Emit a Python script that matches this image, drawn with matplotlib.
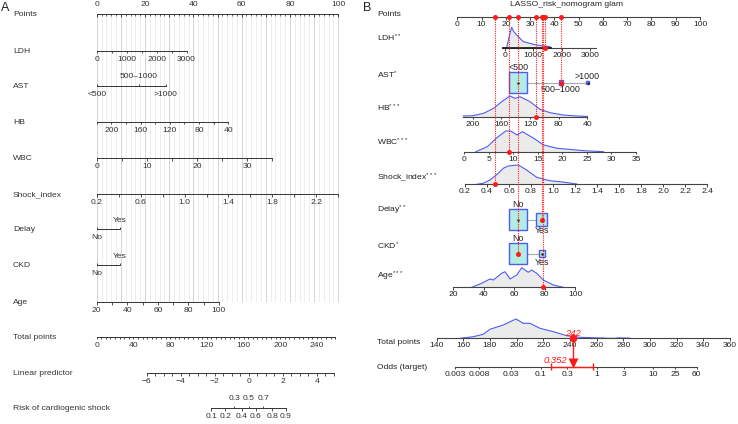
import numpy as np
import matplotlib.pyplot as plt
from matplotlib.patches import Rectangle

plt.rcParams['font.family'] = ['Liberation Sans', 'DejaVu Sans']
plt.rcParams['mathtext.fontset'] = 'custom'
plt.rcParams['mathtext.rm'] = 'Liberation Sans'
plt.rcParams['mathtext.it'] = 'Liberation Sans:italic'

# ---------------- panel A (rms nomogram) ----------------
# scales: (value0, points0, value1, points1)
a_ldh_scale = (0, 0.0, 3000, 37.2)
a_ldh_ticks = [0, 500, 1000, 1500, 2000, 2500, 3000]
a_ldh_labels = [0, 1000, 2000, 3000]
a_ast_cats = ['<500', '500\u20131000', '>1000']
a_ast_pts = [0.0, 17.5, 28.7]
a_hb_scale = (220, 0.0, 40, 54.5)
a_hb_ticks = [220, 200, 180, 160, 140, 120, 100, 80, 60, 40]
a_hb_labels = [200, 160, 120, 80, 40]
a_wbc_scale = (0, 0.0, 35, 72.7)
a_wbc_ticks = [0, 5, 10, 15, 20, 25, 30, 35]
a_wbc_labels = [0, 10, 20, 30]
a_si_scale = (0.2, 0.0, 2.4, 100.0)
a_si_ticks = [0.2, 0.4, 0.6, 0.8, 1.0, 1.2, 1.4, 1.6, 1.8, 2.0, 2.2, 2.4]
a_si_labels = [0.2, 0.6, 1.0, 1.4, 1.8, 2.2]
a_delay_pts = [0.0, 9.6]
a_ckd_pts = [0.0, 9.6]
a_age_scale = (20, 0.0, 100, 50.6)
a_age_ticks = [20, 30, 40, 50, 60, 70, 80, 90, 100]
a_age_labels = [20, 40, 60, 80, 100]
a_tp_ticks = list(range(0, 261, 5))
a_tp_labels = [0, 40, 80, 120, 160, 200, 240]
a_lp_ticks = list(np.arange(-6, 5.01, 0.5))
a_lp_labels = [-6, -4, -2, 0, 2, 4]
a_risk_below = [0.1, 0.2, 0.4, 0.6, 0.8, 0.9]
a_risk_above = [0.3, 0.5, 0.7]

# ---------------- panel B (regplot nomogram) ----------------
b_ldh_scale = (0, 19.65, 3000, 54.7)
b_ldh_ticks = [0, 1000, 2000, 3000]
b_ldh_dens_v = [-80, 60, 150, 236, 300, 412, 644, 997, 1300, 1585, 1640]
b_ldh_dens_h = [0, 0.5, 12, 21, 17, 13.3, 6.7, 4, 2.5, 1.7, 0]
b_ast_cats = ['<500', '500\u20131000', '>1000']
b_ast_pts = [25.1, 42.7, 53.7]
b_ast_prop = [0.93, 0.05, 0.02]
b_hb_scale = (200, 6.35, 40, 53.6)
b_hb_ticks = [200, 160, 120, 80, 40]
b_hb_dens_v = [213, 200, 185, 171, 159.5, 148, 141, 134, 120, 106, 92, 74, 55, 40]
b_hb_dens_h = [0.7, 1, 3.3, 8.3, 15, 20.7, 18.3, 20, 15, 7.3, 4, 1.7, 0.7, 0.3]
b_wbc_scale = (0, 2.76, 35, 73.6)
b_wbc_ticks = [0, 5, 10, 15, 20, 25, 30, 35]
b_wbc_dens_v = [2.4, 4.75, 6.8, 8.5, 9.5, 10.8, 11.9, 14.2, 16.2, 19, 24.4, 28.4]
b_wbc_dens_h = [0, 5, 14.4, 20.7, 20.7, 16.7, 20, 13.4, 6.7, 3.4, 1, 0]
b_si_scale = (0.2, 3.17, 2.4, 102.9)
b_si_ticks = [0.2, 0.4, 0.6, 0.8, 1.0, 1.2, 1.4, 1.6, 1.8, 2.0, 2.2, 2.4]
b_si_dens_v = [0.306, 0.366, 0.427, 0.503, 0.548, 0.594, 0.685, 0.76, 0.852, 0.943, 0.99, 1.064, 1.215]
b_si_dens_h = [0, 1, 4.3, 11, 16, 18.3, 19.3, 14.3, 7, 4.3, 3.3, 2.6, 0.3]
b_delay_cats = ['No', 'Yes']
b_delay_pts = [25.1, 34.8]
b_delay_prop = [0.73, 0.27]
b_ckd_cats = ['No', 'Yes']
b_ckd_pts = [25.1, 35.0]
b_ckd_prop = [0.895, 0.105]
b_age_scale = (20, -1.65, 100, 48.5)
b_age_ticks = [20, 40, 60, 80, 100]
b_age_dens_v = [32.1, 38.7, 44.1, 46.3, 51.8, 54, 57.3, 61.7, 65, 67.1, 69.3, 71.5, 74.8, 79.2, 85.7, 92.3]
b_age_dens_h = [0, 4, 8.3, 7.3, 14, 15.6, 8.3, 12.3, 19.6, 17.3, 15, 17.3, 14, 7.3, 2.3, 0]
b_tp_ticks = list(range(140, 361, 20))
b_tp_dens_v = [157.5, 167.5, 175, 180, 190, 199.5, 205, 210, 217.5, 227.5, 237.5, 247.5, 258, 265, 268, 274, 276, 283, 285]
b_tp_dens_h = [0, 1.6, 4, 9, 13.3, 19.3, 15, 15, 10, 6.6, 2.6, 1, 0.5, 0.3, 0, 0, 0.4, 0.3, 0]
b_odds_ticks = [0.003, 0.008, 0.03, 0.1, 0.3, 1, 3, 10, 25, 60]
b_odds_labels = ['0.003', '0.008', '0.03', '0.1', '0.3', '1', '3', '10', '25', '60']
# observed patient
obs = {'LDH': 1400, 'AST': 1, 'HB': 112, 'WBC': 9.1, 'Shock_index': 0.47,
       'Delay': 1, 'CKD': 0, 'Age': 79}
obs_total = 242
obs_odds = 0.352
obs_odds_ci = (0.156, 0.84)

ink = '#333333'
blue = '#4d5cf2'
red = '#ff1a1a'
box_face = '#b4ece3'
fs = 6.1


def lin(v, scale):
    v0, p0, v1, p1 = scale
    return p0 + (np.asarray(v, dtype=float) - v0) * (p1 - p0) / (v1 - v0)


def AX(p):
    return 96.7 + 2.416 * np.asarray(p, dtype=float)


def BX(p):
    return 457.3 + 2.427 * np.asarray(p, dtype=float)


def TPX_A(t):
    return 96.7 + 0.9175 * np.asarray(t, dtype=float)


def LPX_A(lp):
    return 146.7 + 17.0 * (np.asarray(lp, dtype=float) + 6)


def TPX_B(t):
    return 463.3 + 1.3335 * (np.asarray(t, dtype=float) - 160)


def OX(o):
    return 455 + 56.2 * (np.log10(np.asarray(o, dtype=float)) - np.log10(0.003))


fig = plt.figure(figsize=(7.38, 4.24), dpi=100)
ax = fig.add_axes([0, 0, 1, 1])
ax.set_xlim(0, 738)
ax.set_ylim(424, 0)
ax.axis('off')


def fmt(v):
    if isinstance(v, float) and not float(v).is_integer():
        return ('%g' % v)
    if isinstance(v, float):
        return '%.1f' % v
    return str(v).replace('-', '\u2212')


def axis_a(y, xs, lab_xs, labels, tick=2.5, dy=8.5):
    xs = np.asarray(xs)
    ax.plot([xs.min(), xs.max()], [y, y], color=ink, lw=0.7, zorder=3)
    ax.vlines(xs, y, y + tick, color=ink, lw=0.6, zorder=3)
    for x, s in zip(lab_xs, labels):
        ax.text(x, y + dy, s, ha='center', va='center', fontsize=fs, color=ink, zorder=4)


# ---------- panel A ----------
ax.text(1, 8, 'A', fontsize=9, ha='left', va='center', color='#222222')
a_rows = {'Points': 14, 'LDH': 50.7, 'AST': 86, 'HB': 121.7, 'WBC': 158.3,
          'Shock_index': 194.3, 'Delay': 229.3, 'CKD': 265, 'Age': 302,
          'Total points': 336.7, 'Linear predictor': 373,
          'Risk of cardiogenic shock': 408}
for name, y in a_rows.items():
    ax.text(13, y + 0.5, name, fontsize=fs, ha='left', va='center', color=ink)

# grid
for p in np.arange(0, 101, 2):
    col = '#d4d4d4' if p % 10 == 0 else '#ededed'
    ax.vlines(AX(p), a_rows['Points'], a_rows['Age'], color=col, lw=0.7, zorder=0)

# points axis
y = a_rows['Points']
pts = np.arange(0, 101, 2)
ax.plot([AX(0), AX(100)], [y, y], color=ink, lw=0.7, zorder=3)
ax.vlines(AX(pts), y, y + 2, color=ink, lw=0.5, zorder=3)
ax.vlines(AX(np.arange(0, 101, 10)), y, y + 3, color=ink, lw=0.6, zorder=3)
for p in range(0, 101, 20):
    ax.text(AX(p), y - 9, str(p), ha='center', va='center', fontsize=fs, color=ink)

axis_a(a_rows['LDH'], AX(lin(a_ldh_ticks, a_ldh_scale)),
       AX(lin(a_ldh_labels, a_ldh_scale)), [str(v) for v in a_ldh_labels])

# AST
y = a_rows['AST']
xs = AX(a_ast_pts)
ax.plot([xs[0], xs[-1]], [y, y], color=ink, lw=0.7, zorder=3)
ax.vlines(xs, y - 2.5, y, color=ink, lw=0.6, zorder=3)
ax.text(xs[1], y - 9, a_ast_cats[1], ha='center', va='center', fontsize=fs, color=ink)
ax.text(xs[0], y + 9, a_ast_cats[0], ha='center', va='center', fontsize=fs, color=ink)
ax.text(xs[2], y + 9, a_ast_cats[2], ha='center', va='center', fontsize=fs, color=ink)

axis_a(a_rows['HB'], AX(lin(a_hb_ticks, a_hb_scale)),
       AX(lin(a_hb_labels, a_hb_scale)), [str(v) for v in a_hb_labels])
axis_a(a_rows['WBC'], AX(lin(a_wbc_ticks, a_wbc_scale)),
       AX(lin(a_wbc_labels, a_wbc_scale)), [str(v) for v in a_wbc_labels])
axis_a(a_rows['Shock_index'], AX(lin(a_si_ticks, a_si_scale)),
       AX(lin(a_si_labels, a_si_scale)), ['%.1f' % v for v in a_si_labels])

for name, pp in (('Delay', a_delay_pts), ('CKD', a_ckd_pts)):
    y = a_rows[name]
    xs = AX(pp)
    ax.plot([xs[0], xs[1]], [y, y], color=ink, lw=0.7, zorder=3)
    ax.vlines(xs, y - 2.5, y, color=ink, lw=0.6, zorder=3)
    ax.text(xs[1], y - 8.5, 'Yes', ha='center', va='center', fontsize=fs, color=ink)
    ax.text(xs[0], y + 8.5, 'No', ha='center', va='center', fontsize=fs, color=ink)

axis_a(a_rows['Age'], AX(lin(a_age_ticks, a_age_scale)),
       AX(lin(a_age_labels, a_age_scale)), [str(v) for v in a_age_labels])

axis_a(a_rows['Total points'], TPX_A(a_tp_ticks), TPX_A(a_tp_labels),
       [str(v) for v in a_tp_labels], tick=2)
axis_a(a_rows['Linear predictor'], LPX_A(a_lp_ticks), LPX_A(a_lp_labels),
       [str(v).replace('-', '\u2212') for v in a_lp_labels], tick=2.5)

# risk
y = a_rows['Risk of cardiogenic shock']
logit = lambda p: np.log(np.asarray(p) / (1 - np.asarray(p)))
xb = LPX_A(logit(a_risk_below))
xa = LPX_A(logit(a_risk_above))
ax.plot([xb.min(), xb.max()], [y, y], color=ink, lw=0.7, zorder=3)
ax.vlines(xb, y, y + 2.5, color=ink, lw=0.6)
ax.vlines(xa, y - 2.5, y, color=ink, lw=0.6)
for x, v in zip(xb, a_risk_below):
    ax.text(x, y + 9, '%g' % v, ha='center', va='center', fontsize=fs, color=ink)
for x, v in zip(xa, a_risk_above):
    ax.text(x, y - 9.5, '%g' % v, ha='center', va='center', fontsize=fs, color=ink)

# ---------- panel B ----------
ax.text(363, 8, 'B', fontsize=9, ha='left', va='center', color='#222222')
ax.text(567, 4.5, 'LASSO_risk_nomogram glam', fontsize=fs, ha='center', va='center', color='#222222')
b_labels = [('Points', 14), ('LDH$^{**}$', 38), ('AST$^{*}$', 75), ('HB$^{***}$', 108),
            ('WBC$^{***}$', 142.3), ('Shock_index$^{***}$', 177.7), ('Delay$^{**}$', 210.7),
            ('CKD$^{*}$', 246), ('Age$^{***}$', 276.7), ('Total points', 342.3),
            ('Odds (target)', 367.3)]
for s, y in b_labels:
    ax.text(377, y, s, fontsize=fs, ha='left', va='center', color='#222222')

bink = '#444444'


def axis_b(y, ticks, xs, labels, x0=None, x1=None):
    xs = np.asarray(xs)
    a = xs.min() if x0 is None else x0
    b = xs.max() if x1 is None else x1
    ax.plot([a, b], [y, y], color=bink, lw=0.8, zorder=3)
    ax.vlines(xs, y, y + 2.5, color=bink, lw=0.7, zorder=3)
    for x, s in zip(xs, labels):
        ax.text(x, y + 7.5, s, ha='center', va='center', fontsize=fs, color='#222222', zorder=4)


def density(y, xs, h):
    xs = np.asarray(xs)
    ys = y - np.asarray(h)
    ax.fill_between(xs, y, ys, color='#ebebeb', lw=0, zorder=1)
    ax.plot(xs, ys, color=blue, lw=0.8, zorder=2)


rb = {'Points': 17, 'LDH': 48.3, 'AST': 82.5, 'HB': 116.7, 'WBC': 151.7,
      'Shock_index': 184.3, 'Delay': 219.6, 'CKD': 253.7, 'Age': 287.3,
      'Total points': 338.3, 'Odds': 366.7}

# points axis
pt_ticks = list(range(0, 101, 10))
axis_b(rb['Points'], pt_ticks, BX(pt_ticks), [str(v) for v in pt_ticks])

# LDH
density(rb['LDH'], BX(lin(b_ldh_dens_v, b_ldh_scale)), b_ldh_dens_h)
axis_b(rb['LDH'], b_ldh_ticks, BX(lin(b_ldh_ticks, b_ldh_scale)), [str(v) for v in b_ldh_ticks],
       x0=BX(lin(-90, b_ldh_scale)), x1=BX(lin(3220, b_ldh_scale)))
ax.plot(BX(lin([b_ldh_dens_v[0], b_ldh_dens_v[-1]], b_ldh_scale)), [rb['LDH']] * 2,
        color='#222222', lw=1.3, zorder=3)
# HB
density(rb['HB'], BX(lin(b_hb_dens_v, b_hb_scale)), b_hb_dens_h)
axis_b(rb['HB'], b_hb_ticks, BX(lin(b_hb_ticks, b_hb_scale)), [str(v) for v in b_hb_ticks],
       x0=BX(lin(213, b_hb_scale)))
# WBC
density(rb['WBC'], BX(lin(b_wbc_dens_v, b_wbc_scale)), b_wbc_dens_h)
axis_b(rb['WBC'], b_wbc_ticks, BX(lin(b_wbc_ticks, b_wbc_scale)), [str(v) for v in b_wbc_ticks])
# Shock index
density(rb['Shock_index'], BX(lin(b_si_dens_v, b_si_scale)), b_si_dens_h)
axis_b(rb['Shock_index'], b_si_ticks, BX(lin(b_si_ticks, b_si_scale)), ['%.1f' % v for v in b_si_ticks])
# Age
density(rb['Age'], BX(lin(b_age_dens_v, b_age_scale)), b_age_dens_h)
axis_b(rb['Age'], b_age_ticks, BX(lin(b_age_ticks, b_age_scale)), [str(v) for v in b_age_ticks])


# categorical boxes
def boxes(y, cats, pp, prop, label_side):
    xs = BX(pp)
    ax.plot([xs[0], xs[-1]], [y, y], color='#aaaaaa', lw=0.8, zorder=1)
    pmax = max(prop)
    for i, (x, c, p) in enumerate(zip(xs, cats, prop)):
        k = np.sqrt(p / pmax)
        w, h = 18 * k, 20.7 * k
        ax.add_patch(Rectangle((x - w / 2, y - h / 2), w, h, facecolor=box_face,
                               edgecolor=blue, lw=1.0, zorder=2))
        ax.plot(x, y, 'o', ms=0.8, color='#222222', zorder=3)
        side = label_side[i]
        if side > 0:
            yy = y - 20.7 / 2 - 4.5 if i == 0 else y - h / 2 - 4.5
        else:
            yy = y + h / 2 + 5
        ax.text(x, yy, c, ha='center', va='center', fontsize=fs + 0.3, color='#222222', zorder=4)


boxes(rb['AST'], b_ast_cats, b_ast_pts, b_ast_prop, [1, -1, 1])
boxes(rb['Delay'], b_delay_cats, b_delay_pts, b_delay_prop, [1, -1])
boxes(rb['CKD'], b_ckd_cats, b_ckd_pts, b_ckd_prop, [1, -1])

# total points + odds
density(rb['Total points'], TPX_B(b_tp_dens_v), b_tp_dens_h)
axis_b(rb['Total points'], b_tp_ticks, TPX_B(b_tp_ticks), [str(v) for v in b_tp_ticks])
axis_b(rb['Odds'], b_odds_ticks, OX(b_odds_ticks), b_odds_labels)

# observed patient in red
obs_pts = {
    'LDH': (lin(obs['LDH'], b_ldh_scale), rb['LDH']),
    'AST': (b_ast_pts[obs['AST']], rb['AST']),
    'HB': (lin(obs['HB'], b_hb_scale), rb['HB']),
    'WBC': (lin(obs['WBC'], b_wbc_scale), rb['WBC']),
    'Shock_index': (lin(obs['Shock_index'], b_si_scale), rb['Shock_index']),
    'Delay': (b_delay_pts[obs['Delay']], rb['Delay']),
    'CKD': (b_ckd_pts[obs['CKD']], rb['CKD']),
    'Age': (lin(obs['Age'], b_age_scale), rb['Age']),
}
for k, (p, y) in obs_pts.items():
    x = BX(p)
    ax.plot([x, x], [rb['Points'], y], color=red, lw=0.8, ls=(0, (1, 1)), zorder=5)
    ax.plot(x, y, 'o', ms=3.6, color=red, mec='none', zorder=6)
    ax.plot(x, rb['Points'], 'o', ms=3.6, color=red, mec='none', zorder=6)

xt = TPX_B(obs_total)
ax.plot([xt, xt], [rb['Total points'], rb['Odds'] - 4], color=red, lw=1.0, zorder=5)
ax.plot(xt, rb['Total points'], 'o', ms=5.5, color=red, mec='none', zorder=6)
ax.plot(xt, rb['Odds'] - 4, 'v', ms=6.5, color=red, mec='none', zorder=6)
ax.text(xt, rb['Total points'] - 5, str(obs_total), color=red, fontsize=6.8,
        style='italic', ha='center', va='center', zorder=7)
c0, c1 = OX(obs_odds_ci)
ax.plot([c0, c1], [rb['Odds']] * 2, color=red, lw=1.0, zorder=5)
ax.vlines([c0, c1], rb['Odds'] - 3.5, rb['Odds'] + 3.5, color=red, lw=1.0, zorder=5)
ax.text(OX(obs_odds) - 16, rb['Odds'] - 6.5, '%.3f' % obs_odds, color=red, fontsize=6.8,
        style='italic', ha='center', va='center', zorder=7)

fig.savefig('out.png', dpi=100)
